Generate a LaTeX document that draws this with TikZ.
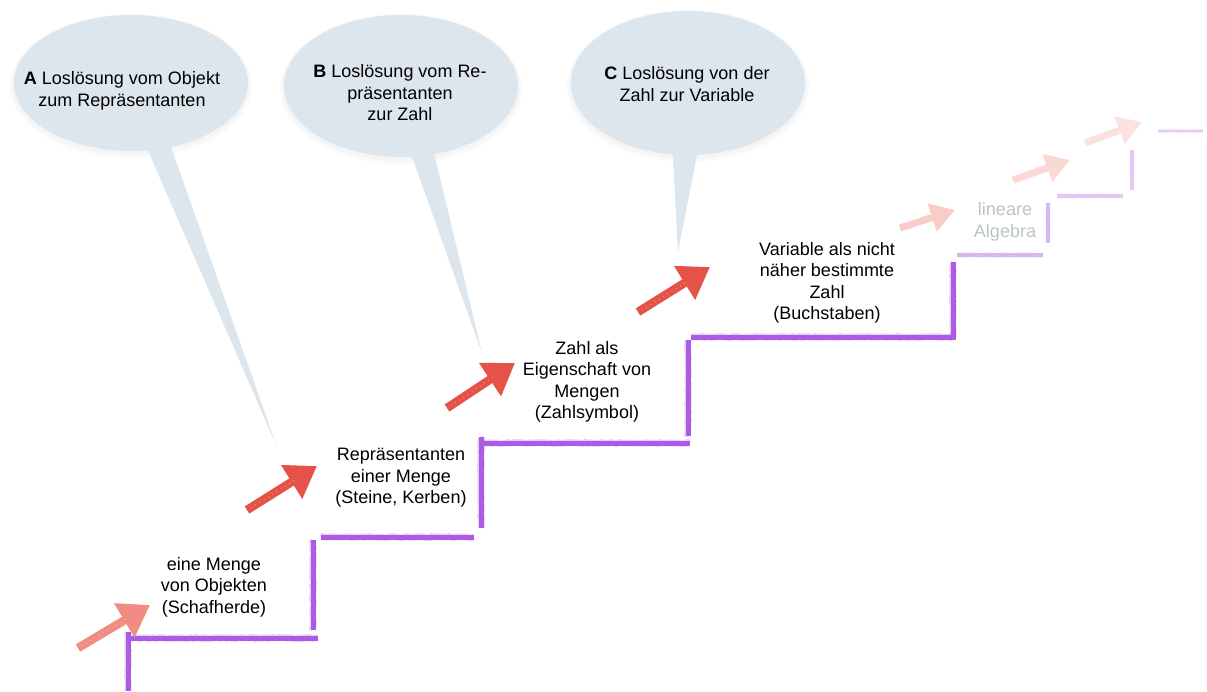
\documentclass[tikz,border=0pt]{standalone}
\usepackage{fontspec}
\setmainfont{Liberation Sans}
\usetikzlibrary{arrows.meta,decorations.pathmorphing}
\definecolor{bubble}{RGB}{221,230,237}
\definecolor{stair}{RGB}{172,92,228}
\definecolor{stairfade}{RGB}{216,182,241}
\definecolor{stairpale}{RGB}{226,202,245}
\definecolor{chalkred}{RGB}{229,82,72}
\definecolor{chalksalmon}{RGB}{240,140,130}
\definecolor{redfadeA}{RGB}{248,204,199}
\definecolor{redfadeB}{RGB}{250,217,213}
\definecolor{redfadeC}{RGB}{251,226,223}
\definecolor{ghost}{RGB}{184,199,189}
\begin{document}
\pgfmathsetseed{11}
\begin{tikzpicture}[x=1pt,y=-1pt,
  font=\fontsize{18}{21.5}\selectfont,
  label/.style={align=center, inner sep=0pt},
  stepline/.style={draw=#1, line width=5pt,
    postaction={draw=#1, line width=6.5pt, opacity=0.3, decorate,
      decoration={random steps, segment length=2pt, amplitude=0.7pt}}},
  stepline/.default=stair,
  thinstep/.style={draw=#1, line width=3.5pt,
    postaction={draw=#1, line width=4.5pt, opacity=0.3, decorate,
      decoration={random steps, segment length=2pt, amplitude=0.6pt}}},
  chalkarrow/.style={draw=#1, line width=8.5pt, -{Triangle[width=38pt,length=30pt]}},
  paleshaft/.style={draw=#1, line width=7pt, -{Triangle[width=28pt,length=24pt]}},
  grain/.style={draw=white, line width=1pt, opacity=0.35, dash pattern=on 1pt off 4pt},
  bubblefill/.style={fill=bubble, draw=none},
  halo/.style={fill=black, opacity=0.02, draw=none}]

\useasboundingbox (0,0) rectangle (1207,691);

% speech bubbles: soft shadow, body and tail
\foreach \cx/\cy/\rx/\ry in {131/83/117/68, 401/86/117/71, 688/83/117/72}{
  \fill[halo] (\cx,\cy+3) ellipse [x radius=\rx+4, y radius=\ry+4];
  \fill[halo] (\cx,\cy+2) ellipse [x radius=\rx+2, y radius=\ry+2];
}
\fill[bubblefill] (131,83) ellipse [x radius=117, y radius=68];
\fill[bubblefill] (139,130) -- (165,130) -- (277,447) -- cycle;
\fill[bubblefill] (401,86) ellipse [x radius=117, y radius=71];
\fill[bubblefill] (406,140) -- (431,140) -- (482,353) -- cycle;
\fill[bubblefill] (688,83) ellipse [x radius=117, y radius=72];
\fill[bubblefill] (672,140) -- (700,140) -- (678,252) -- cycle;

\node[label] (bubA) at (122,91) {\textbf{A} Losl\"osung vom Objekt\\zum Repr\"asentanten};
\node[label] (bubB) at (400,93) {\textbf{B} Losl\"osung vom Re-\\pr\"asentanten\\zur Zahl};
\node[label] (bubC) at (687,84) {\textbf{C} Losl\"osung von der\\Zahl zur Variable};

% staircase
\draw[stepline] (128,691) -- (128,632);
\draw[stepline] (131,638) -- (318,638);
\draw[stepline] (313,630) -- (313,540);
\draw[stepline] (321,537) -- (474,537);
\draw[stepline] (481,528) -- (481,437);
\draw[stepline] (482,443) -- (690,443);
\draw[stepline] (688,436) -- (688,340);
\draw[stepline] (691,337) -- (953,337);
\draw[stepline] (953,340) -- (953,262);
\draw[thinstep=stairfade] (957,255) -- (1043,255);
\draw[thinstep=stairfade] (1048,243) -- (1048,203);
\draw[thinstep=stairpale] (1057,196) -- (1123,196);
\draw[thinstep=stairpale] (1132,190) -- (1132,150);
\draw[thinstep=stairpale, line width=2.5pt] (1158,131) -- (1203,131);

% arrows climbing the steps
\draw[chalkarrow=chalksalmon] (78,648) -- (150,605);
\draw[chalkarrow=chalkred] (247,510) -- (317,466);
\draw[chalkarrow=chalkred] (447,408) -- (515,363);
\draw[chalkarrow=chalkred] (638,312) -- (710,267);
\draw[paleshaft=redfadeA] (900,228) -- (955,210);
\draw[paleshaft=redfadeB] (1013,180) -- (1070,160);
\draw[paleshaft=redfadeC] (1085,143) -- (1142,122);

% chalk grain on the shafts
\draw[grain] (82,646) -- (128,618);
\draw[grain] (251,508) -- (295,480);
\draw[grain] (451,406) -- (493,377);
\draw[grain] (642,310) -- (688,281);

% step labels
\node[label] (s1) at (214,587) {eine Menge\\von Objekten\\(Schafherde)};
\node[label] (s2) at (401,478) {Repr\"asentanten\\einer Menge\\(Steine, Kerben)};
\node[label] (s3) at (587,382) {Zahl als\\Eigenschaft von\\Mengen\\(Zahlsymbol)};
\node[label] (s4) at (827,283) {Variable als nicht\\n\"aher bestimmte\\Zahl\\(Buchstaben)};
\node[label, text=ghost] (s5) at (1005,222) {lineare\\Algebra};

\end{tikzpicture}
\end{document}
